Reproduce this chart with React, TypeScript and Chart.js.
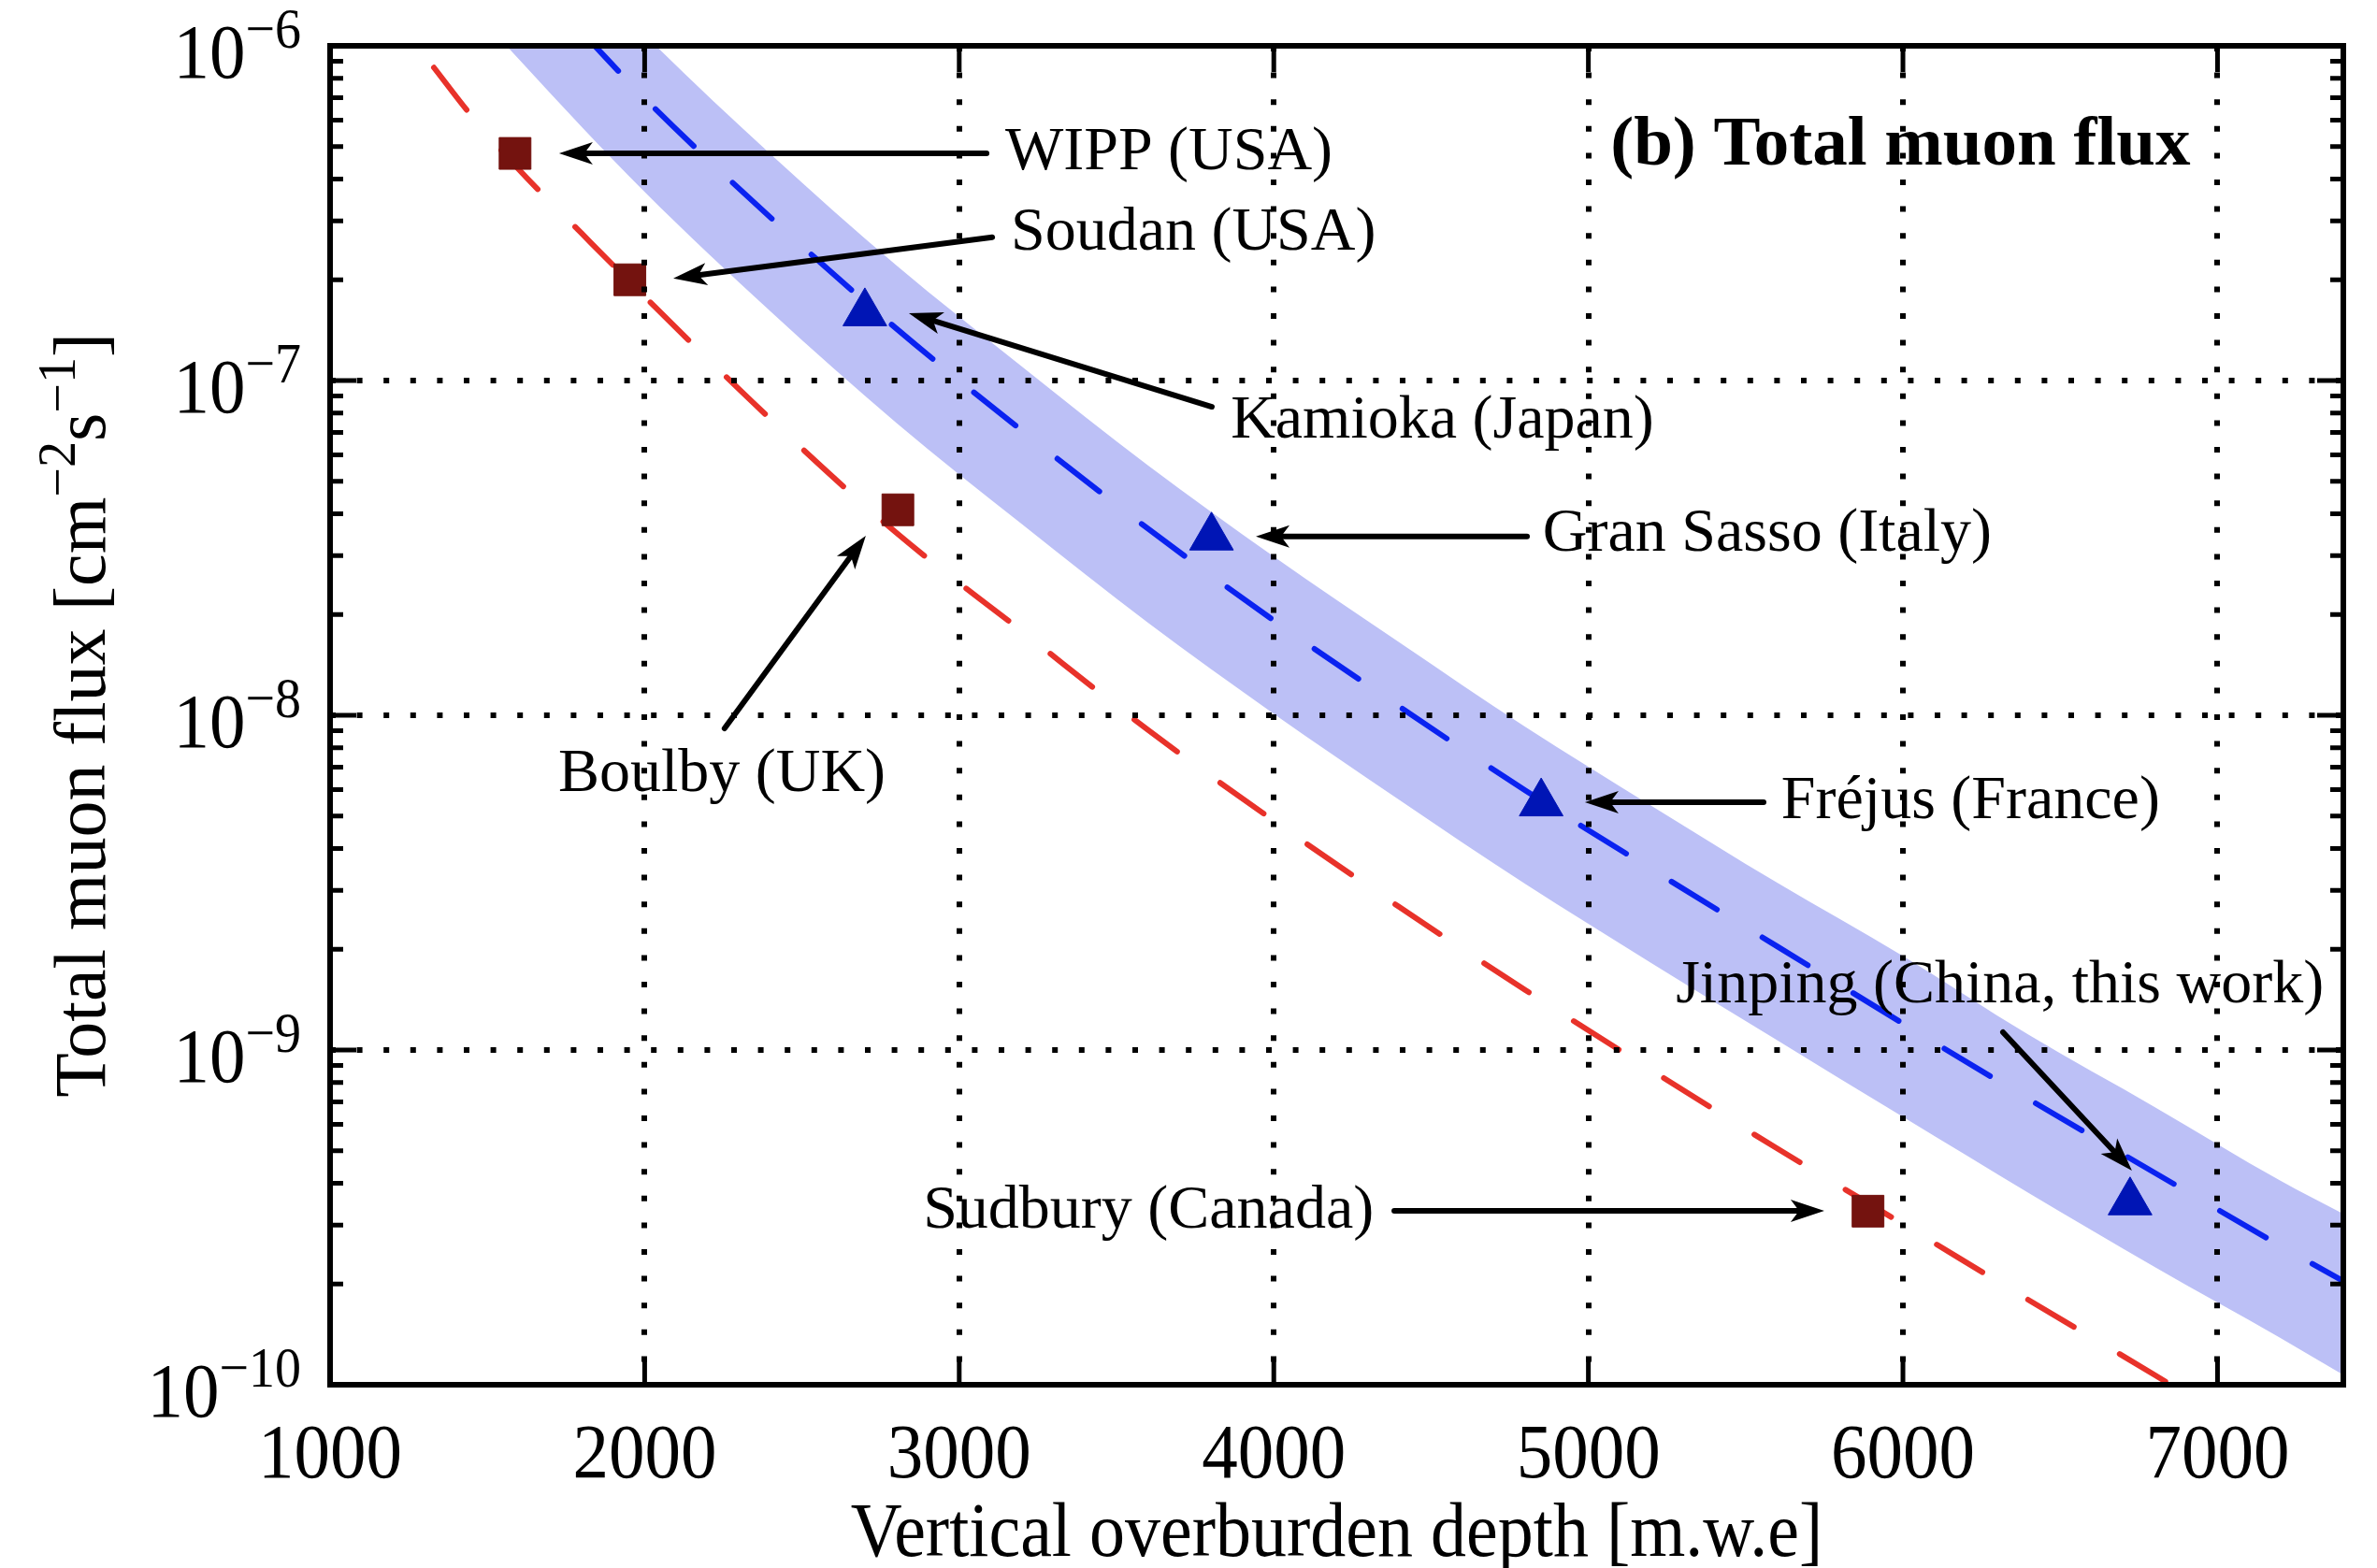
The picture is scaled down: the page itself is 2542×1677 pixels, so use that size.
import { useEffect, useRef } from 'react';
import { Chart, registerables } from 'chart.js';

Chart.register(...registerables);

const W = 2542;
const H = 1677;
const SERIF = '"Liberation Serif", "Times New Roman", serif';

// ---- axes ----
const depthTicks = [1000, 2000, 3000, 4000, 5000, 6000, 7000];
const fluxDecades = [1e-10, 1e-9, 1e-8, 1e-7, 1e-6];
const decadeExponents = ['\u221210', '\u22129', '\u22128', '\u22127', '\u22126'];

// ---- measured sites ----
const squareSites = ['WIPP', 'Soudan', 'Boulby', 'Sudbury'];
const squareDepth = [1588, 1953, 2805, 5889];
const squareFlux = [4.77e-7, 2.0e-7, 4.11e-8, 3.3e-10];

const triangleSites = ['Kamioka', 'Gran Sasso', 'Fréjus', 'Jinping'];
const triangleDepth = [2700, 3802, 4850, 6722];
const triangleFlux = [1.59e-7, 3.4e-8, 5.46e-9, 3.51e-10];

// ---- red dashed curve ----
const redDepth = [1330, 1450, 1600, 1800, 2000, 2400, 2800, 3200, 3600, 4000, 4400, 4800, 5200, 5600, 6000, 6400, 6800, 7000];
const redFlux = [8.61e-7, 6.17e-7, 4.27e-7, 2.75e-7, 1.78e-7, 7.67e-8, 3.51e-8, 1.78e-8, 9.04e-9, 4.84e-9, 2.67e-9, 1.51e-9, 8.71e-10, 5.08e-10, 3.02e-10, 1.79e-10, 1.07e-10, 8.2e-11];

// ---- blue dashed curve ----
const blueDepth = [1800, 2000, 2400, 2800, 3200, 3600, 4000, 4400, 4800, 5200, 5600, 6000, 6400, 6800, 7200, 7400];
const blueFlux = [1.1e-6, 6.97e-7, 3.07e-7, 1.43e-7, 7.08e-8, 3.61e-8, 1.92e-8, 1.06e-8, 5.96e-9, 3.47e-9, 2.04e-9, 1.2e-9, 7.13e-10, 4.3e-10, 2.6e-10, 2.04e-10];

// ---- shaded band ----
const bandDepth = [1400, 1600, 2000, 2400, 2800, 3200, 3600, 4000, 4400, 4800, 5200, 5600, 6000, 6400, 6800, 7200, 7400];
const bandUpper = [4.37e-6, 2.69e-6, 1.08e-6, 4.75e-7, 2.21e-7, 1.1e-7, 5.58e-8, 2.98e-8, 1.65e-8, 9.23e-9, 5.37e-9, 3.16e-9, 1.91e-9, 1.11e-9, 6.76e-10, 4.07e-10, 3.24e-10];
const bandLower = [1.48e-6, 9.12e-7, 3.66e-7, 1.61e-7, 7.48e-8, 3.72e-8, 1.89e-8, 1.01e-8, 5.58e-9, 3.13e-9, 1.82e-9, 1.07e-9, 6.31e-10, 3.74e-10, 2.25e-10, 1.38e-10, 1.07e-10];

// ---- annotations (data coordinates) ----
const labelTexts = ['WIPP (USA)', 'Soudan (USA)', 'Kamioka (Japan)', 'Gran Sasso (Italy)', 'Boulby (UK)', 'Fréjus (France)', 'Jinping (China, this work)', 'Sudbury (Canada)'];
const labelDepth = [3146, 3164, 3863, 4855, 1725, 5613, 5278, 2885];
const labelFlux = [4.28e-7, 2.46e-7, 6.75e-8, 3.1e-8, 5.94e-9, 4.93e-9, 1.39e-9, 2.95e-10];
const arrowFromDepth = [3087, 3105, 3803, 4805, 2254, 5557, 6318, 4383];
const arrowFromFlux = [4.77e-7, 2.68e-7, 8.35e-8, 3.42e-8, 9.14e-9, 5.5e-9, 1.13e-9, 3.31e-10];
const arrowToDepth = [1728, 2091, 2840, 3943, 2703, 4989, 6728, 5750];
const arrowToFlux = [4.77e-7, 2.02e-7, 1.59e-7, 3.42e-8, 3.44e-8, 5.5e-9, 4.36e-10, 3.31e-10];
const panelTitle = '(b) Total muon flux';
const panelTitleDepth = 5070;
const panelTitleFlux = 4.42e-7;

const xy = (xs: number[], ys: number[]) => xs.map((x, i) => ({ x, y: ys[i] }));

function textS(ctx: CanvasRenderingContext2D, s: string, x: number, y: number, sy = 1) {
  ctx.save();
  ctx.translate(x, y);
  ctx.scale(1, sy);
  ctx.fillText(s, 0, 0);
  ctx.restore();
}

function drawArrow(ctx: CanvasRenderingContext2D, x1: number, y1: number, x2: number, y2: number) {
  const ang = Math.atan2(y2 - y1, x2 - x1);
  const c = Math.cos(ang), s = Math.sin(ang);
  const L = 36, HW = 12, notch = 9;
  const bx = x2 - c * L, by = y2 - s * L;
  const nx = x2 - c * (L - notch), ny = y2 - s * (L - notch);
  ctx.lineWidth = 6;
  ctx.lineCap = 'round';
  ctx.beginPath();
  ctx.moveTo(x1, y1);
  ctx.lineTo(nx, ny);
  ctx.stroke();
  ctx.beginPath();
  ctx.moveTo(x2, y2);
  ctx.lineTo(bx - s * HW, by + c * HW);
  ctx.lineTo(nx, ny);
  ctx.lineTo(bx + s * HW, by - c * HW);
  ctx.closePath();
  ctx.fill();
}

const overlay = {
  id: 'overlay',
  afterDraw(chart: any) {
    const { ctx, chartArea: a, scales } = chart;
    const xs = scales.x, ys = scales.y;
    ctx.save();
    ctx.fillStyle = '#000';
    ctx.strokeStyle = '#000';

    // frame
    ctx.lineWidth = 6;
    ctx.lineJoin = 'miter';
    ctx.strokeRect(a.left, a.top, a.right - a.left, a.bottom - a.top);

    // inside ticks
    ctx.lineWidth = 5;
    ctx.lineCap = 'butt';
    const major = 28, minor = 14;
    ctx.beginPath();
    depthTicks.forEach((v) => {
      const px = xs.getPixelForValue(v);
      ctx.moveTo(px, a.bottom); ctx.lineTo(px, a.bottom - major);
      ctx.moveTo(px, a.top); ctx.lineTo(px, a.top + major);
    });
    fluxDecades.forEach((v, i) => {
      const py = ys.getPixelForValue(v);
      ctx.moveTo(a.left, py); ctx.lineTo(a.left + major, py);
      ctx.moveTo(a.right, py); ctx.lineTo(a.right - major, py);
      if (i < fluxDecades.length - 1) {
        for (let k = 2; k <= 9; k++) {
          const pm = ys.getPixelForValue(k * v);
          ctx.moveTo(a.left, pm); ctx.lineTo(a.left + minor, pm);
          ctx.moveTo(a.right, pm); ctx.lineTo(a.right - minor, pm);
        }
      }
    });
    ctx.stroke();

    // x tick labels
    ctx.textBaseline = 'alphabetic';
    ctx.font = `77px ${SERIF}`;
    ctx.textAlign = 'center';
    depthTicks.forEach((v) => textS(ctx, String(v), xs.getPixelForValue(v), a.bottom + 99, 1.08));

    // y tick labels 10^n
    ctx.textAlign = 'left';
    fluxDecades.forEach((v, i) => {
      const py = ys.getPixelForValue(v);
      ctx.font = `77px ${SERIF}`;
      const wb = ctx.measureText('10').width;
      ctx.font = `56px ${SERIF}`;
      const ws = ctx.measureText(decadeExponents[i]).width;
      const x0 = a.left - 31 - wb - ws;
      ctx.font = `77px ${SERIF}`;
      textS(ctx, '10', x0, py + 34, 1.08);
      ctx.font = `56px ${SERIF}`;
      textS(ctx, decadeExponents[i], x0 + wb, py + 2, 1.08);
    });

    // x title
    ctx.font = `76px ${SERIF}`;
    ctx.textAlign = 'center';
    textS(ctx, 'Vertical overburden depth [m.w.e]', (a.left + a.right) / 2, a.bottom + 183, 1.08);

    // y title (rotated, with superscripts)
    const segs: [string, boolean][] = [['Total muon flux [cm', false], ['\u22122', true], ['s', false], ['\u22121', true], [']', false]];
    const fBase = `78px ${SERIF}`, fSup = `56px ${SERIF}`;
    let total = 0;
    segs.forEach(([t, sup]) => { ctx.font = sup ? fSup : fBase; total += ctx.measureText(t).width; });
    ctx.save();
    ctx.translate(112, (a.top + a.bottom) / 2);
    ctx.rotate(-Math.PI / 2);
    ctx.textAlign = 'left';
    let cx = -total / 2;
    segs.forEach(([t, sup]) => {
      ctx.font = sup ? fSup : fBase;
      ctx.fillText(t, cx, sup ? -32 : 0);
      cx += ctx.measureText(t).width;
    });
    ctx.restore();

    // arrows
    ctx.fillStyle = '#000';
    ctx.strokeStyle = '#000';
    arrowFromDepth.forEach((d, i) => {
      drawArrow(
        ctx,
        xs.getPixelForValue(d), ys.getPixelForValue(arrowFromFlux[i]),
        xs.getPixelForValue(arrowToDepth[i]), ys.getPixelForValue(arrowToFlux[i])
      );
    });

    // labels
    ctx.textAlign = 'left';
    ctx.font = `66px ${SERIF}`;
    labelTexts.forEach((t, i) => {
      ctx.fillText(t, xs.getPixelForValue(labelDepth[i]), ys.getPixelForValue(labelFlux[i]));
    });
    ctx.font = `bold 75px ${SERIF}`;
    ctx.fillText(panelTitle, xs.getPixelForValue(panelTitleDepth), ys.getPixelForValue(panelTitleFlux));

    ctx.restore();
  },
};

export default function App() {
  const ref = useRef<HTMLCanvasElement>(null);
  useEffect(() => {
    document.body.style.margin = '0';
    document.body.style.overflow = 'hidden';
    const canvas = ref.current;
    if (!canvas) return;
    const chart = new Chart(canvas, {
      type: 'line',
      data: {
        datasets: [
          {
            label: squareSites.join(', '),
            data: xy(squareDepth, squareFlux),
            showLine: false,
            pointStyle: 'rect',
            pointRadius: 24,
            pointBackgroundColor: '#74130f',
            pointBorderColor: '#74130f',
            pointBorderWidth: 1,
          },
          {
            label: triangleSites.join(', '),
            data: xy(triangleDepth, triangleFlux),
            showLine: false,
            pointStyle: 'triangle',
            pointRadius: 27,
            pointBackgroundColor: '#0015b5',
            pointBorderColor: '#0015b5',
            pointBorderWidth: 1,
          },
          {
            label: 'red fit',
            data: xy(redDepth, redFlux),
            borderColor: '#e8322a',
            borderWidth: 6,
            borderDash: [57, 57],
            borderCapStyle: 'round',
            pointRadius: 0,
            cubicInterpolationMode: 'monotone',
            fill: false,
          },
          {
            label: 'blue fit',
            data: xy(blueDepth, blueFlux),
            borderColor: '#0a22f0',
            borderWidth: 6,
            borderDash: [57, 57],
            borderCapStyle: 'round',
            pointRadius: 0,
            cubicInterpolationMode: 'monotone',
            fill: false,
          },
          {
            label: 'band upper',
            data: xy(bandDepth, bandUpper),
            borderWidth: 0,
            borderColor: 'rgba(0,0,0,0)',
            pointRadius: 0,
            cubicInterpolationMode: 'monotone',
            fill: false,
          },
          {
            label: 'band lower',
            data: xy(bandDepth, bandLower),
            borderWidth: 0,
            borderColor: 'rgba(0,0,0,0)',
            backgroundColor: '#bcc0f6',
            pointRadius: 0,
            cubicInterpolationMode: 'monotone',
            fill: '-1',
          },
        ],
      },
      options: {
        responsive: false,
        animation: false,
        devicePixelRatio: 1,
        layout: { padding: { left: 353, right: 36, top: 49, bottom: 196 } },
        plugins: { legend: { display: false }, tooltip: { enabled: false } },
        scales: {
          x: {
            type: 'linear',
            min: 1000,
            max: 7400,
            afterBuildTicks: (s: any) => { s.ticks = depthTicks.map((v) => ({ value: v })); },
            ticks: { display: false },
            grid: { color: '#000', lineWidth: 6, drawTicks: false, z: 1 },
            border: { display: false, dash: [6, 22.6] },
          },
          y: {
            type: 'logarithmic',
            min: 1e-10,
            max: 1e-6,
            afterBuildTicks: (s: any) => { s.ticks = fluxDecades.map((v) => ({ value: v })); },
            ticks: { display: false },
            grid: { color: '#000', lineWidth: 6, drawTicks: false, z: 1 },
            border: { display: false, dash: [6, 22.6] },
          },
        },
      },
      plugins: [overlay],
    } as any);
    return () => chart.destroy();
  }, []);
  return (
    <div style={{ width: W, height: H }}>
      <canvas ref={ref} width={W} height={H} style={{ display: 'block', width: W, height: H }} />
    </div>
  );
}
